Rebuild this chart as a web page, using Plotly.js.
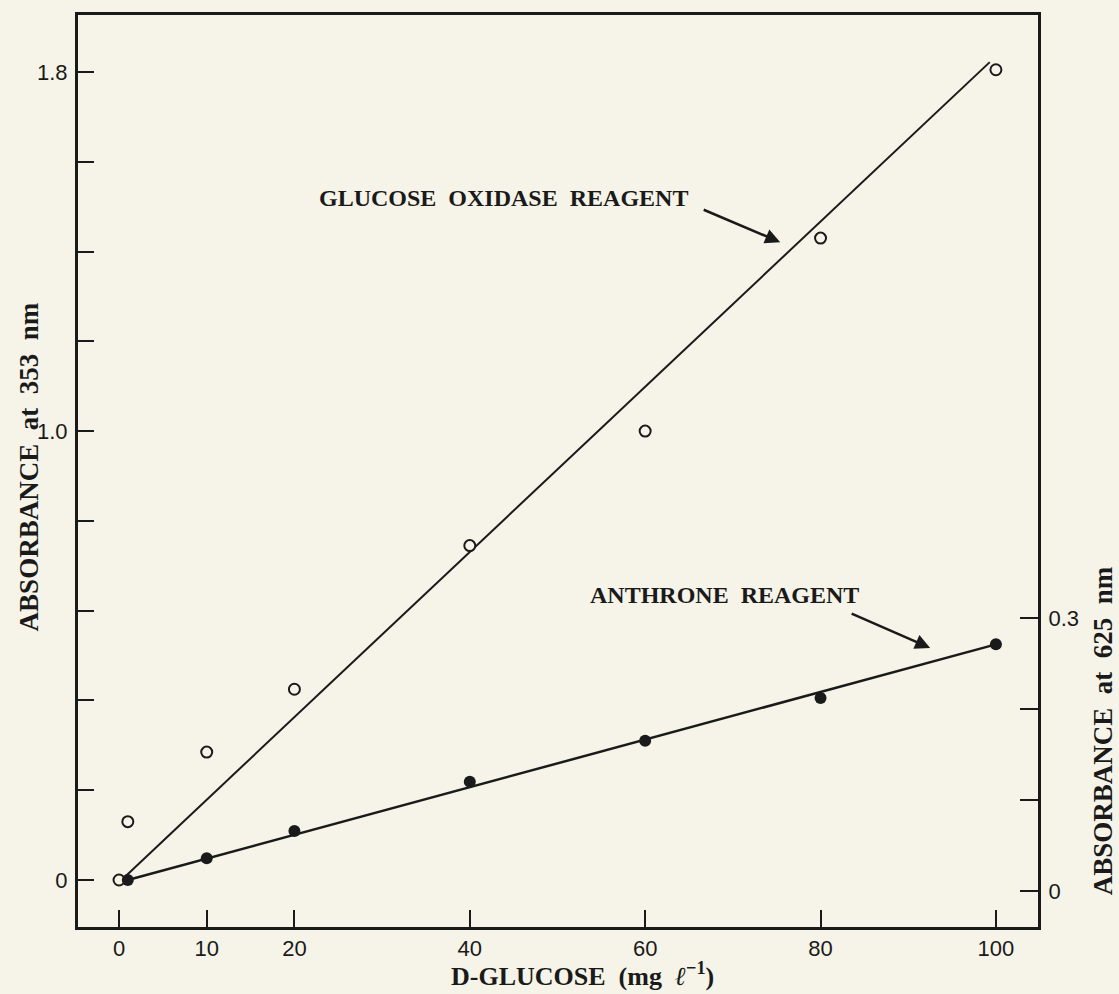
<!DOCTYPE html>
<html>
<head>
<meta charset="utf-8">
<script src="https://cdn.plot.ly/plotly-3.0.1.min.js"></script>
<style>
html,body{margin:0;padding:0;background:#f6f4e8;}
#chart{width:1119px;height:994px;}
</style>
</head>
<body>
<div id="chart"></div>
<script>
// D-glucose concentrations (mg/l)
const glucoseOxidaseX = [0, 1, 10, 20, 40, 60, 80, 100];
// Absorbance at 353 nm (glucose oxidase reagent, open circles)
const glucoseOxidaseAbs353 = [0, 0.13, 0.285, 0.425, 0.745, 1.0, 1.43, 1.805];
// Fitted line for glucose oxidase reagent
const glucoseOxidaseFitX = [0.5, 99.3];
const glucoseOxidaseFitY = [0.004, 1.822];

const anthroneX = [1, 10, 20, 40, 60, 80, 100];
// Absorbance at 625 nm (anthrone reagent, filled circles)
const anthroneAbs625 = [0.012, 0.036, 0.066, 0.12, 0.165, 0.212, 0.271];
// Fitted line for anthrone reagent
const anthroneFitX = [1, 100];
const anthroneFitY = [0.012, 0.271];

// Tick values and labels
const xTickVals = [0, 10, 20, 40, 60, 80, 100];
const xTickText = ["0", "10", "20", "40", "60", "80", "100"];
const yTickVals = [0, 0.2, 0.4, 0.6, 0.8, 1.0, 1.2, 1.4, 1.6, 1.8];
const yTickText = ["0", "", "", "", "", "1.0", "", "", "", "1.8"];
const y2TickVals = [0, 0.1, 0.2, 0.3];
const y2TickText = ["0", "", "", "0.3"];

const bg = "#f6f4e8";
const ink = "#1a1a1a";
const tickFont = {family: "Liberation Sans, Arial, sans-serif", size: 22, color: ink};
const serif = "Liberation Serif, Times New Roman, serif";
const nb = "\u00a0\u00a0";
const titleFont = {family: serif, size: 24, color: ink, weight: "bold"};
const sideTitleFont = {family: serif, size: 27, color: ink, weight: "bold"};
const bottomTitleFont = {family: serif, size: 26, color: ink, weight: "bold"};

const traces = [
  {x: glucoseOxidaseFitX, y: glucoseOxidaseFitY, mode: "lines", line: {color: ink, width: 2}, xaxis: "x", yaxis: "y", hoverinfo: "skip"},
  {x: anthroneFitX, y: anthroneFitY, mode: "lines", line: {color: ink, width: 2.5}, xaxis: "x", yaxis: "y2", hoverinfo: "skip"},
  {x: glucoseOxidaseX, y: glucoseOxidaseAbs353, mode: "markers", xaxis: "x", yaxis: "y",
   marker: {symbol: "circle", size: 11, color: bg, line: {color: ink, width: 2}}},
  {x: anthroneX, y: anthroneAbs625, mode: "markers", xaxis: "x", yaxis: "y2",
   marker: {symbol: "circle", size: 12, color: ink, line: {color: ink, width: 0}}}
];

const layout = {
  width: 1119, height: 994,
  paper_bgcolor: bg, plot_bgcolor: bg,
  showlegend: false,
  margin: {l: 78, r: 81, t: 15, b: 67, pad: 0},
  xaxis: {
    range: [-4.68, 104.8], tickvals: xTickVals, ticktext: xTickText,
    ticks: "inside", ticklen: 17, tickwidth: 2, tickcolor: ink,
    showline: true, linewidth: 3, linecolor: ink, mirror: true,
    showgrid: false, zeroline: false, tickfont: tickFont, ticklabelstandoff: 0
  },
  yaxis: {
    range: [-0.1047, 1.927], tickvals: yTickVals, ticktext: yTickText,
    ticks: "inside", ticklen: 16, tickwidth: 2, tickcolor: ink,
    showline: true, linewidth: 3, linecolor: ink, mirror: true,
    showgrid: false, zeroline: false, tickfont: tickFont, ticklabelstandoff: 3
  },
  yaxis2: {
    range: [-0.0396, 0.9626], tickvals: y2TickVals, ticktext: y2TickText,
    overlaying: "y", side: "right",
    ticks: "inside", ticklen: 18, tickwidth: 2, tickcolor: ink,
    showline: true, linewidth: 3, linecolor: ink,
    showgrid: false, zeroline: false, tickfont: tickFont, ticklabelstandoff: 3
  },
  annotations: [
    {xref: "paper", yref: "paper", x: -0.051, y: 0.504, xanchor: "center", yanchor: "middle", textangle: -90, showarrow: false,
     text: "ABSORBANCE" + nb + "at" + nb + "353" + nb + "nm", font: sideTitleFont},
    {xref: "paper", yref: "paper", x: 1.068, y: 0.215, xanchor: "center", yanchor: "middle", textangle: -90, showarrow: false,
     text: "ABSORBANCE" + nb + "at" + nb + "625" + nb + "nm", font: sideTitleFont},
    {xref: "paper", yref: "paper", x: 0.526, y: -0.052, xanchor: "center", yanchor: "middle", showarrow: false,
     text: "D-GLUCOSE" + nb + "(mg" + nb + "<i>ℓ</i><sup>−1</sup>)", font: bottomTitleFont},
    {xref: "x", yref: "y", x: 43.8, y: 1.519, xanchor: "center", yanchor: "middle", showarrow: false,
     text: "GLUCOSE" + nb + "OXIDASE" + nb + "REAGENT", font: titleFont},
    {xref: "x", yref: "y", x: 69.1, y: 0.635, xanchor: "center", yanchor: "middle", showarrow: false,
     text: "ANTHRONE" + nb + "REAGENT", font: titleFont},
    {xref: "x", yref: "y", x: 75.4, y: 1.421, text: "", showarrow: true,
     ax: -78, ay: -33, arrowhead: 2, arrowsize: 1.2, arrowwidth: 2.5, arrowcolor: ink},
    {xref: "x", yref: "y2", x: 92.5, y: 0.267, text: "", showarrow: true,
     ax: -80, ay: -35, arrowhead: 2, arrowsize: 1.2, arrowwidth: 2.5, arrowcolor: ink}
  ]
};

Plotly.newPlot("chart", traces, layout, {displayModeBar: false, staticPlot: true});
</script>
</body>
</html>
